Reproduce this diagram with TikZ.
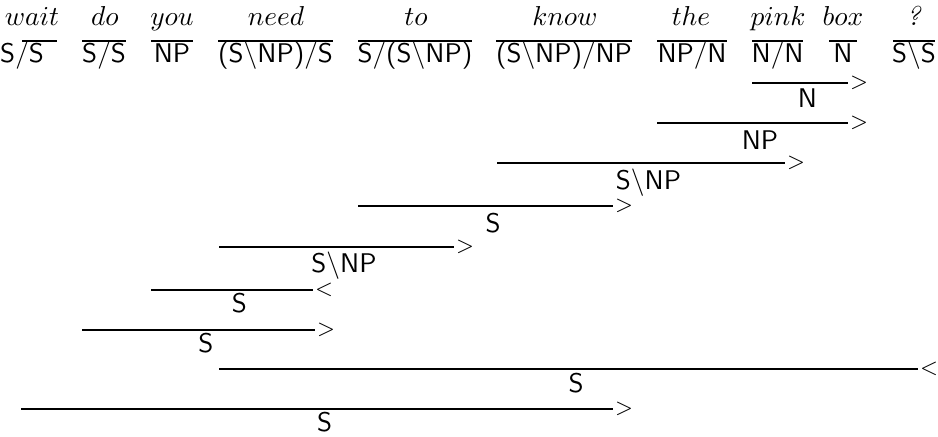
\documentclass[tikz,border=0pt]{standalone}
\begin{document}
\begin{tikzpicture}[x=0.4pt,y=-0.4pt,
  word/.style={anchor=base, inner sep=0pt, font=\fontsize{10.8}{13}\selectfont},
  cat/.style={anchor=base, inner sep=0pt, font=\fontsize{10.8}{13}\selectfont\sffamily},
  rulesym/.style={anchor=west, inner sep=0pt, xshift=0.6pt, font=\fontsize{9}{10}\selectfont},
  rl/.style={line width=0.8pt},
  rlthick/.style={line width=1.1pt}]
\useasboundingbox (0,0) rectangle (938,437);

% words
\node[word] (w1) at (32,26) {$wait$};
\node[word] (w2) at (105,26) {$do$};
\node[word] (w3) at (172,26) {$you$};
\node[word] (w4) at (276,26) {$need$};
\node[word] (w5) at (416,26) {$to$};
\node[word] (w6) at (565,26) {$know$};
\node[word] (w7) at (691,26) {$the$};
\node[word] (w8) at (778,26) {$pink$};
\node[word] (w9) at (843,26) {$box$};
\node[word] (w10) at (914,26) {\textit{?}};

% lexical rules
\coordinate (a1) at (22,41);  \coordinate (b1) at (57,41);
\coordinate (a2) at (82,41);  \coordinate (b2) at (126,41);
\coordinate (a3) at (151,41); \coordinate (b3) at (193,41);
\coordinate (a4) at (218,41); \coordinate (b4) at (333,41);
\coordinate (a5) at (358,41); \coordinate (b5) at (472,41);
\coordinate (a6) at (496,41); \coordinate (b6) at (632,41);
\coordinate (a7) at (657,41); \coordinate (b7) at (727,41);
\coordinate (a8) at (752,41); \coordinate (b8) at (803,41);
\coordinate (a9) at (829,41); \coordinate (b9) at (857,41);
\coordinate (a10) at (893,41); \coordinate (b10) at (935,41);
\foreach \i in {1,...,10} { \draw[rl] (a\i) -- (b\i); }

% categories
\node[cat] (c1) at (22,63) {S/S};
\node[cat] (c2) at (104,63) {S/S};
\node[cat] (c3) at (172,63) {NP};
\node[cat] (c4) at (275.5,63) {(S$\backslash$NP)/S};
\node[cat] (c5) at (415,63) {S/(S$\backslash$NP)};
\node[cat] (c6) at (564,63) {(S$\backslash$NP)/NP};
\node[cat] (c7) at (692,63) {NP/N};
\node[cat] (c8) at (777.5,63) {N/N};
\node[cat] (c9) at (843,63) {N};
\node[cat] (c10) at (914,63) {S$\backslash$S};

% derivation rules
\coordinate (d1s) at (752,83);  \coordinate (d1e) at (848,83);
\coordinate (d2s) at (657,123); \coordinate (d2e) at (848,123);
\coordinate (d3s) at (497,163); \coordinate (d3e) at (785,163);
\coordinate (d4s) at (358,206); \coordinate (d4e) at (613,206);
\coordinate (d5s) at (219,247); \coordinate (d5e) at (454,247);
\coordinate (d6s) at (151,290); \coordinate (d6e) at (313,290);
\coordinate (d7s) at (82,330);  \coordinate (d7e) at (315,330);
\coordinate (d8s) at (219,369); \coordinate (d8e) at (918,369);
\coordinate (d9s) at (21,409);  \coordinate (d9e) at (613,409);

\draw[rl] (d1s) -- (d1e); \node[rulesym] (r1) at (d1e) {$>$};
\draw[rl] (d2s) -- (d2e); \node[rulesym] (r2) at (d2e) {$>$};
\draw[rl] (d3s) -- (d3e); \node[rulesym] (r3) at (d3e) {$>$};
\draw[rl] (d4s) -- (d4e); \node[rulesym] (r4) at (d4e) {$>$};
\draw[rl] (d5s) -- (d5e); \node[rulesym] (r5) at (d5e) {$>$};
\draw[rl] (d6s) -- (d6e); \node[rulesym] (r6) at (d6e) {$<$};
\draw[rl] (d7s) -- (d7e); \node[rulesym] (r7) at (d7e) {$>$};
\draw[rlthick] (d8s) -- (d8e); \node[rulesym] (r8) at (d8e) {$<$};
\draw[rl] (d9s) -- (d9e); \node[rulesym] (r9) at (d9e) {$>$};

% results
\node[cat] (n1) at (807.5,108) {N};
\node[cat] (n2) at (760,150) {NP};
\node[cat] (n3) at (648.5,190) {S$\backslash$NP};
\node[cat] (n4) at (493,233) {S};
\node[cat] (n5) at (344,273) {S$\backslash$NP};
\node[cat] (n6) at (239.5,313) {S};
\node[cat] (n7) at (206,353) {S};
\node[cat] (n8) at (576,393) {S};
\node[cat] (n9) at (324.5,432) {S};
\end{tikzpicture}
\end{document}
